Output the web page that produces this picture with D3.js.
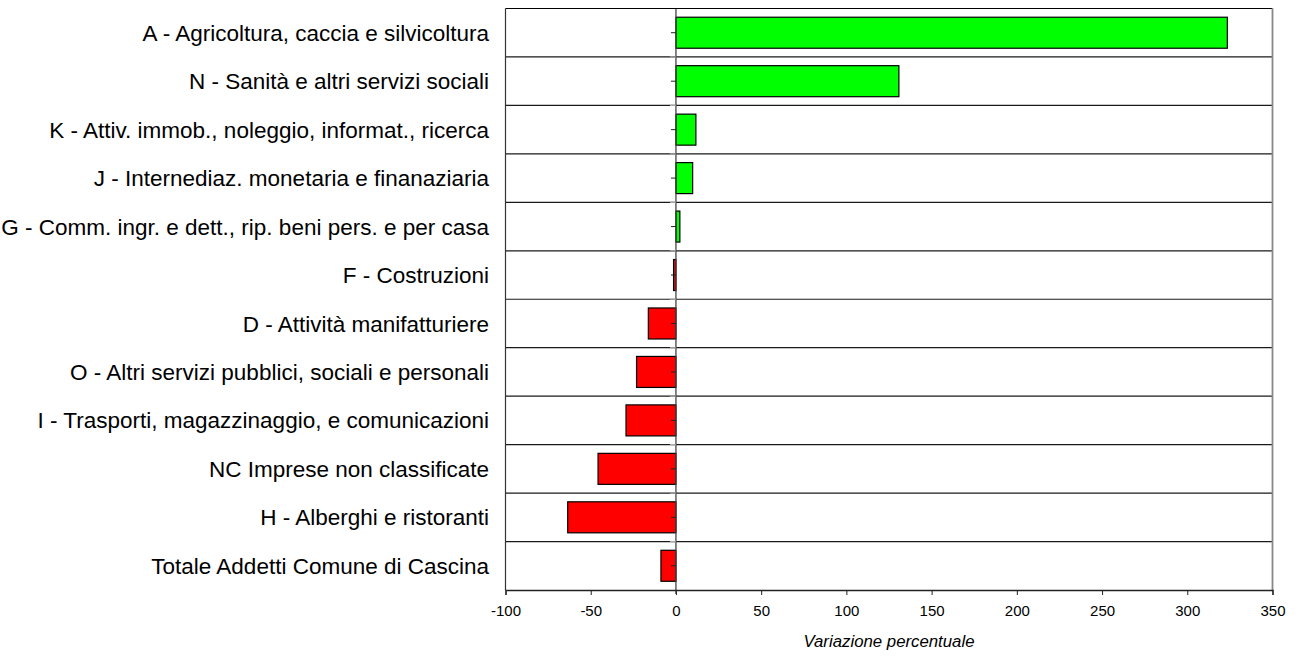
<!DOCTYPE html>
<html>
<head>
<meta charset="utf-8">
<script src="https://cdn.jsdelivr.net/npm/d3@7"></script>
<style>
  html, body { margin: 0; padding: 0; background: #fff; }
  svg { display: block; }
</style>
</head>
<body>
<svg id="chart" width="1299" height="659"></svg>
<script>
const categories = [
  "A - Agricoltura, caccia e silvicoltura",
  "N - Sanità e altri servizi sociali",
  "K - Attiv. immob., noleggio, informat., ricerca",
  "J - Internediaz. monetaria e finanaziaria",
  "G - Comm. ingr. e dett., rip. beni pers. e per casa",
  "F - Costruzioni",
  "D - Attività manifatturiere",
  "O - Altri servizi pubblici, sociali e personali",
  "I - Trasporti, magazzinaggio, e comunicazioni",
  "NC Imprese non classificate",
  "H - Alberghi e ristoranti",
  "Totale Addetti Comune di Cascina"
];
const values = [323.5, 130.8, 11.7, 9.8, 2.3, -1.4, -16.2, -23.1, -29.3, -45.7, -63.5, -8.8];
const xTicks = [-100, -50, 0, 50, 100, 150, 200, 250, 300, 350];
const xTickLabels = ["-100", "-50", "0", "50", "100", "150", "200", "250", "300", "350"];
const xTitle = "Variazione percentuale";

const FONT = "'Liberation Sans', Arial, sans-serif";
const svg = d3.select("#chart");
const L = 505.5, R = 1272.5, T = 8.5, B = 590;

const x = d3.scaleLinear().domain([-100, 350]).range([L, R]);
const rows = d3.scaleBand().domain(categories).range([T, B]).padding(0);
const barFrac = 0.64;

const g = svg.append("g");

g.append("rect").attr("x", L).attr("y", T).attr("width", R - L).attr("height", B - T)
  .attr("fill", "#fff");

// horizontal row separators
const seps = categories.slice(1).map(c => rows(c));
g.selectAll("line.sep").data(seps).join("line")
  .attr("class", "sep")
  .attr("x1", L).attr("x2", R)
  .attr("y1", d => d).attr("y2", d => d)
  .attr("stroke", "#1a1a1a").attr("stroke-width", 1.2);

// bars
const bh = rows.bandwidth() * barFrac;
g.selectAll("rect.bar").data(values).join("rect")
  .attr("class", "bar")
  .attr("x", d => x(Math.min(0, d)))
  .attr("width", d => Math.abs(x(d) - x(0)))
  .attr("y", (d, i) => rows(categories[i]) + (rows.bandwidth() - bh) / 2)
  .attr("height", bh)
  .attr("fill", d => d >= 0 ? "#00ff00" : "#ff0000")
  .attr("stroke", "#000").attr("stroke-width", 1.2);

// zero line
g.append("line").attr("x1", x(0)).attr("x2", x(0)).attr("y1", T).attr("y2", B + 4)
  .attr("stroke", "#444").attr("stroke-width", 1.3);

// y ticks at category centers
g.selectAll("line.ytick").data(categories).join("line")
  .attr("class", "ytick")
  .attr("x1", x(0) - 5).attr("x2", x(0))
  .attr("y1", d => rows(d) + rows.bandwidth() / 2)
  .attr("y2", d => rows(d) + rows.bandwidth() / 2)
  .attr("stroke", "#222").attr("stroke-width", 1);

// minor ticks at boundaries
g.selectAll("line.ymtick").data(seps).join("line")
  .attr("class", "ymtick")
  .attr("x1", x(0) - 6).attr("x2", x(0))
  .attr("y1", d => d).attr("y2", d => d)
  .attr("stroke", "#aaa").attr("stroke-width", 1.2);

// frame
g.append("line").attr("x1", L).attr("x2", R).attr("y1", T).attr("y2", T)
  .attr("stroke", "#000").attr("stroke-width", 1.2);
g.append("line").attr("x1", L).attr("x2", L).attr("y1", T).attr("y2", B)
  .attr("stroke", "#333").attr("stroke-width", 1.2);
g.append("line").attr("x1", R).attr("x2", R).attr("y1", T).attr("y2", B)
  .attr("stroke", "#888").attr("stroke-width", 1.8);

// x axis
const xAxis = d3.axisBottom(x).tickValues(xTicks).tickSize(5).tickPadding(10)
  .tickFormat((d, i) => xTickLabels[i]);
const ax = svg.append("g").attr("transform", `translate(0,${B})`).call(xAxis)
  .attr("font-family", FONT).attr("font-size", 15);
ax.select(".domain").attr("stroke", "#222").attr("stroke-width", 1.3);
ax.selectAll(".tick line").attr("stroke", "#222").attr("stroke-width", 1);
ax.selectAll(".tick text").attr("fill", "#000");

// category labels
svg.append("g").attr("font-family", FONT).attr("font-size", 22.5)
  .selectAll("text").data(categories).join("text")
  .attr("x", 489)
  .attr("y", d => rows(d) + rows.bandwidth() / 2)
  .attr("dy", "0.36em")
  .attr("text-anchor", "end")
  .attr("fill", "#000")
  .text(d => d);

// x title
svg.append("text")
  .attr("x", (L + R) / 2).attr("y", 647)
  .attr("text-anchor", "middle")
  .attr("font-family", FONT)
  .attr("font-size", 16.8)
  .attr("font-style", "italic")
  .attr("fill", "#000")
  .text(xTitle);
</script>
</body>
</html>
